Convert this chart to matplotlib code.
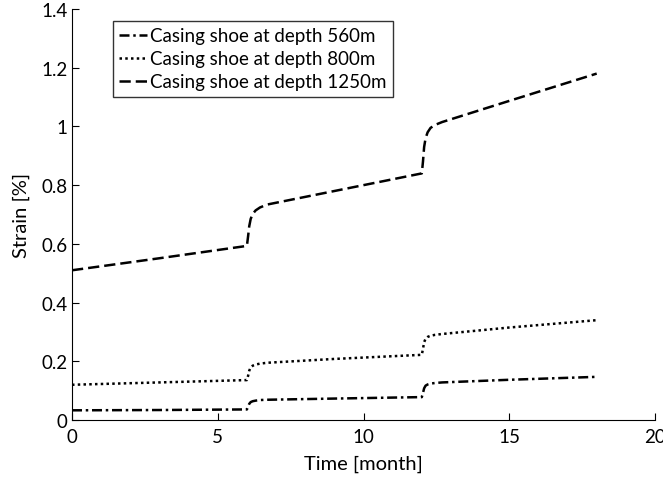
import matplotlib.pyplot as plt

plt.rcParams['font.family'] = ['Lato', 'DejaVu Sans']

# time [month] and strain [%]
t = [0, 3, 6, 6.04, 6.08, 6.13, 6.2, 6.3, 6.45, 6.7, 9, 12, 12.04, 12.08, 12.13, 12.2, 12.3, 12.45, 12.7, 15, 18]
strain_560 = [0.033, 0.034, 0.036, 0.045, 0.055, 0.061, 0.064, 0.066, 0.068, 0.069, 0.073, 0.078, 0.092, 0.108, 0.117, 0.121, 0.124, 0.126, 0.128, 0.137, 0.147]
strain_800 = [0.12, 0.128, 0.136, 0.15, 0.168, 0.179, 0.185, 0.189, 0.192, 0.195, 0.208, 0.222, 0.242, 0.265, 0.277, 0.283, 0.287, 0.29, 0.293, 0.315, 0.34]
strain_1250 = [0.51, 0.551, 0.593, 0.625, 0.66, 0.685, 0.702, 0.714, 0.724, 0.734, 0.780, 0.84, 0.88, 0.93, 0.96, 0.98, 0.995, 1.005, 1.015, 1.087, 1.18]
labels = ['Casing shoe at depth 560m', 'Casing shoe at depth 800m', 'Casing shoe at depth 1250m']

fig = plt.figure(figsize=(6.63, 4.81), dpi=100)
ax = fig.add_axes([72 / 663, 60 / 481, 583 / 663, 411 / 481])

lw = 1.8
ax.plot(t, strain_560, color='black', lw=lw, linestyle=(0, (4, 1.5, 1, 1.5)), label=labels[0])
ax.plot(t, strain_800, color='black', lw=lw, linestyle=(0, (1, 1.3)), label=labels[1])
ax.plot(t, strain_1250, color='black', lw=lw, linestyle=(0, (4.5, 2)), label=labels[2])

ax.set_xlim(0, 20)
ax.set_ylim(0, 1.4)
ax.set_xticks([0, 5, 10, 15, 20])
ax.set_yticks([0, 0.2, 0.4, 0.6, 0.8, 1.0, 1.2, 1.4])
ax.set_yticklabels(['0', '0.2', '0.4', '0.6', '0.8', '1', '1.2', '1.4'])
ax.tick_params(direction='in', length=5, labelsize=13.5, width=0.8, pad=3)
ax.tick_params(axis='x', pad=6)
ax.spines['top'].set_visible(False)
ax.spines['right'].set_visible(False)
ax.set_xlabel('Time [month]', fontsize=14.5, labelpad=7)
ax.set_ylabel('Strain [%]', fontsize=14.5, labelpad=8)

leg = ax.legend(loc='upper left', bbox_to_anchor=(0.07, 0.972), fontsize=13.5, frameon=True,
                fancybox=False, handlelength=1.5, handletextpad=0.15, borderpad=0.35,
                labelspacing=0.33, borderaxespad=0)
leg.get_frame().set_edgecolor('black')
leg.get_frame().set_linewidth(1.0)

fig.savefig('out.png', dpi=100)
